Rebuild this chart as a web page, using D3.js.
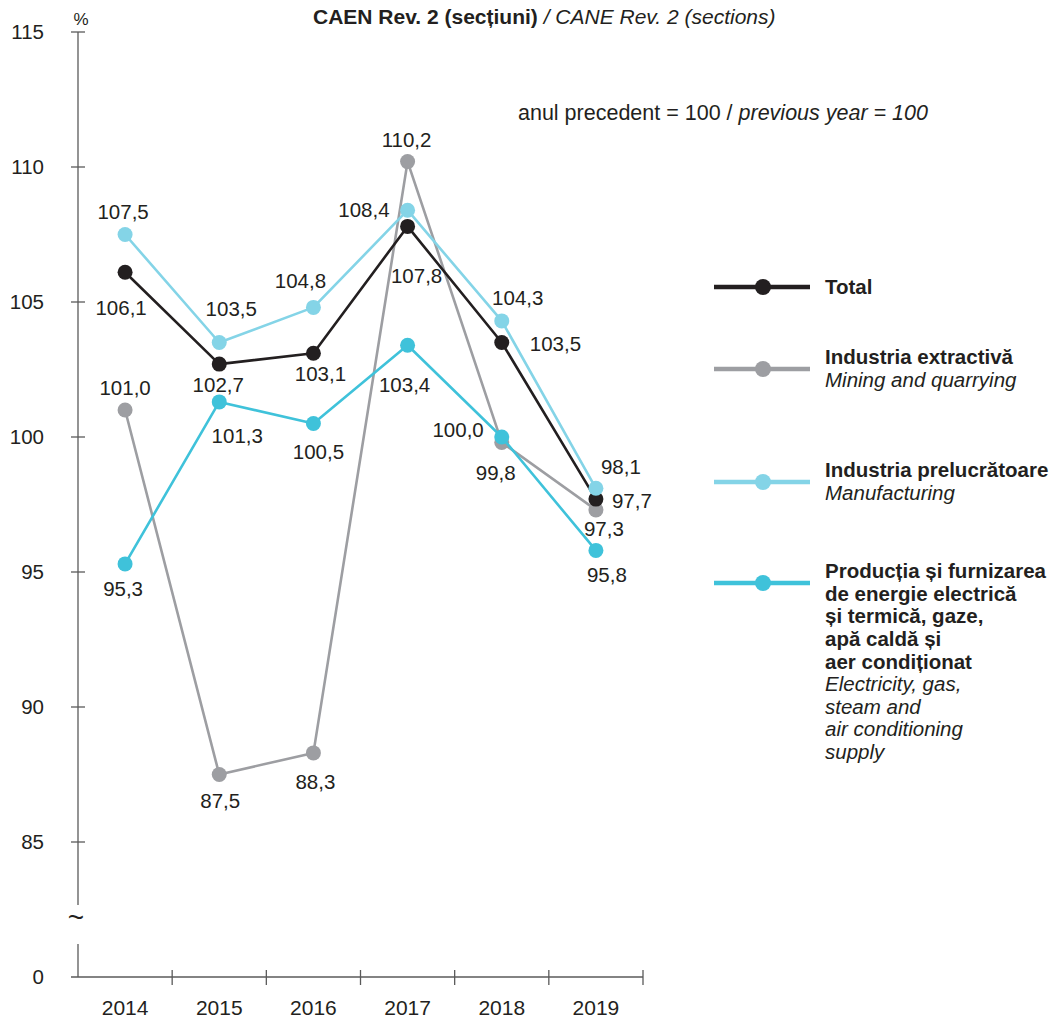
<!DOCTYPE html>
<html>
<head>
<meta charset="utf-8">
<script src="https://cdn.jsdelivr.net/npm/d3@7"></script>
<style>
  html, body { margin: 0; padding: 0; background: #fff; }
  svg { display: block; font-family: "Liberation Sans", Arial, Helvetica, sans-serif; }
</style>
</head>
<body>
<svg id="chart" width="1064" height="1018"></svg>
<script>
// ---- data ----
const years = ["2014", "2015", "2016", "2017", "2018", "2019"];
const total = [106.1, 102.7, 103.1, 107.8, 103.5, 97.7];
const mining = [101.0, 87.5, 88.3, 110.2, 99.8, 97.3];
const manufacturing = [107.5, 103.5, 104.8, 108.4, 104.3, 98.1];
const energy = [95.3, 101.3, 100.5, 103.4, 100.0, 95.8];
const yTicks = [85, 90, 95, 100, 105, 110, 115];

// ---- label placement (dx, dy from the point, anchor) ----
const totalLabelPos = [[-4, 36, "middle"], [-1, 21, "middle"], [7, 21, "middle"], [9, 49, "middle"], [28, 1, "start"], [16, 2, "start"]];
const miningLabelPos = [[0, -22, "middle"], [1, 26, "middle"], [2, 29, "middle"], [-1, -22, "middle"], [-6, 30, "middle"], [8, 19, "middle"]];
const manufLabelPos = [[-2, -23, "middle"], [12, -34, "middle"], [-13, -27, "middle"], [-18, 0, "end"], [16, -23, "middle"], [25, -21, "middle"]];
const energyLabelPos = [[-2, 25, "middle"], [18, 34, "middle"], [5, 28, "middle"], [-3, 40, "middle"], [-18, -7, "end"], [11, 24, "middle"]];

const seriesDefs = [
  { name: "mining", values: mining, pos: miningLabelPos, color: "#9d9ea2",
    legend: ["Industria extractivă"], legendIt: ["Mining and quarrying"] },
  { name: "total", values: total, pos: totalLabelPos, color: "#231f20",
    legend: ["Total"], legendIt: [] },
  { name: "manuf", values: manufacturing, pos: manufLabelPos, color: "#84d4e7",
    legend: ["Industria prelucrătoare"], legendIt: ["Manufacturing"] },
  { name: "energy", values: energy, pos: energyLabelPos, color: "#3fc2da",
    legend: ["Producția și furnizarea", "de energie electrică", "și termică, gaze,", "apă caldă și", "aer condiționat"],
    legendIt: ["Electricity, gas,", "steam and", "air conditioning", "supply"] }
];

const svg = d3.select("#chart");
const textColor = "#231f20";
const axisColor = "#5a5a5a";

const x = d3.scaleBand().domain(years).range([78, 643]);
const y = d3.scaleLinear().domain([85, 115]).range([842, 32]);
const yZeroPos = 977;
const cx = d => x(d) + x.bandwidth() / 2;
const fmt = v => d3.format(".1f")(v).replace(".", ",");

// ---- y axis (broken) ----
const ax = svg.append("g");
ax.append("line").attr("x1", 78).attr("x2", 78).attr("y1", y(115)).attr("y2", 905)
  .attr("stroke", axisColor).attr("stroke-width", 1.3);
ax.append("line").attr("x1", 78).attr("x2", 78).attr("y1", 944).attr("y2", yZeroPos)
  .attr("stroke", axisColor).attr("stroke-width", 1.3);
ax.append("text").attr("x", 76).attr("y", 927).attr("text-anchor", "middle")
  .attr("font-size", 28).attr("fill", textColor).text("~");

ax.selectAll(".ytick").data(yTicks).enter().append("line")
  .attr("x1", 71).attr("x2", 85).attr("y1", d => y(d)).attr("y2", d => y(d))
  .attr("stroke", axisColor).attr("stroke-width", 1.3);
ax.selectAll(".ylab").data(yTicks).enter().append("text")
  .attr("x", 44).attr("y", d => y(d)).attr("dy", "0.35em").attr("text-anchor", "end")
  .attr("font-size", 20.5).attr("fill", textColor).text(d => d);
ax.append("text").attr("x", 44).attr("y", yZeroPos).attr("dy", "0.35em").attr("text-anchor", "end")
  .attr("font-size", 20.5).attr("fill", textColor).text("0");
ax.append("text").attr("x", 81).attr("y", 25).attr("text-anchor", "middle")
  .attr("font-size", 17).attr("fill", textColor).text("%");

// ---- x axis ----
ax.append("line").attr("x1", 71).attr("x2", 643).attr("y1", yZeroPos).attr("y2", yZeroPos)
  .attr("stroke", axisColor).attr("stroke-width", 1.3);
const bounds = years.map(d => x(d) + x.bandwidth());
ax.selectAll(".xtick").data(bounds).enter().append("line")
  .attr("x1", d => d).attr("x2", d => d).attr("y1", yZeroPos - 7).attr("y2", yZeroPos + 8)
  .attr("stroke", axisColor).attr("stroke-width", 1.3);
ax.selectAll(".xlab").data(years).enter().append("text")
  .attr("x", d => cx(d)).attr("y", 1015).attr("text-anchor", "middle")
  .attr("font-size", 21).attr("fill", textColor).text(d => d);

// ---- titles ----
const t1 = svg.append("text").attr("x", 313).attr("y", 24).attr("font-size", 21).attr("fill", textColor);
t1.append("tspan").attr("font-weight", "bold").text("CAEN Rev. 2 (secțiuni)");
t1.append("tspan").attr("font-style", "italic").text(" / CANE Rev. 2 (sections)");
const t2 = svg.append("text").attr("x", 518).attr("y", 120).attr("font-size", 21.5).attr("fill", textColor);
t2.append("tspan").text("anul precedent = 100 / ");
t2.append("tspan").attr("font-style", "italic").text("previous year = 100");

// ---- series ----
const line = d3.line().x((d, i) => cx(years[i])).y(d => y(d));
const g = svg.append("g");
seriesDefs.forEach(s => {
  const sg = g.append("g");
  sg.append("path").datum(s.values).attr("d", line).attr("fill", "none")
    .attr("stroke", s.color).attr("stroke-width", 2.6).attr("stroke-linejoin", "round");
  sg.selectAll("circle").data(s.values).enter().append("circle")
    .attr("cx", (d, i) => cx(years[i])).attr("cy", d => y(d)).attr("r", 7.5).attr("fill", s.color);
});
// labels on top
seriesDefs.forEach(s => {
  g.append("g").selectAll("text").data(s.values).enter().append("text")
    .attr("x", (d, i) => cx(years[i]) + s.pos[i][0])
    .attr("y", (d, i) => y(d) + s.pos[i][1])
    .attr("dy", "0.35em")
    .attr("text-anchor", (d, i) => s.pos[i][2])
    .attr("font-size", 20.5).attr("fill", textColor).text(d => fmt(d));
});

// ---- legend ----
const legendOrder = ["total", "mining", "manuf", "energy"];
const legendY = { total: 287, mining: 369, manuf: 482, energy: 583 };
const lg = svg.append("g");
legendOrder.forEach(n => {
  const s = seriesDefs.find(d => d.name === n);
  const ly = legendY[n];
  lg.append("line").attr("x1", 714).attr("x2", 810).attr("y1", ly).attr("y2", ly)
    .attr("stroke", s.color).attr("stroke-width", 4.5);
  lg.append("circle").attr("cx", 763).attr("cy", ly).attr("r", 8).attr("fill", s.color);
  const lines = s.legend.map(t => ({ t, it: false })).concat(s.legendIt.map(t => ({ t, it: true })));
  const startY = n === "total" ? ly : ly - 12;
  lines.forEach((l, i) => {
    lg.append("text").attr("x", 825).attr("y", startY + i * 22.6).attr("dy", "0.35em")
      .attr("font-size", 20.5).attr("fill", textColor)
      .attr("font-weight", l.it ? "normal" : "bold")
      .attr("font-style", l.it ? "italic" : "normal").text(l.t);
  });
});
</script>
</body>
</html>
